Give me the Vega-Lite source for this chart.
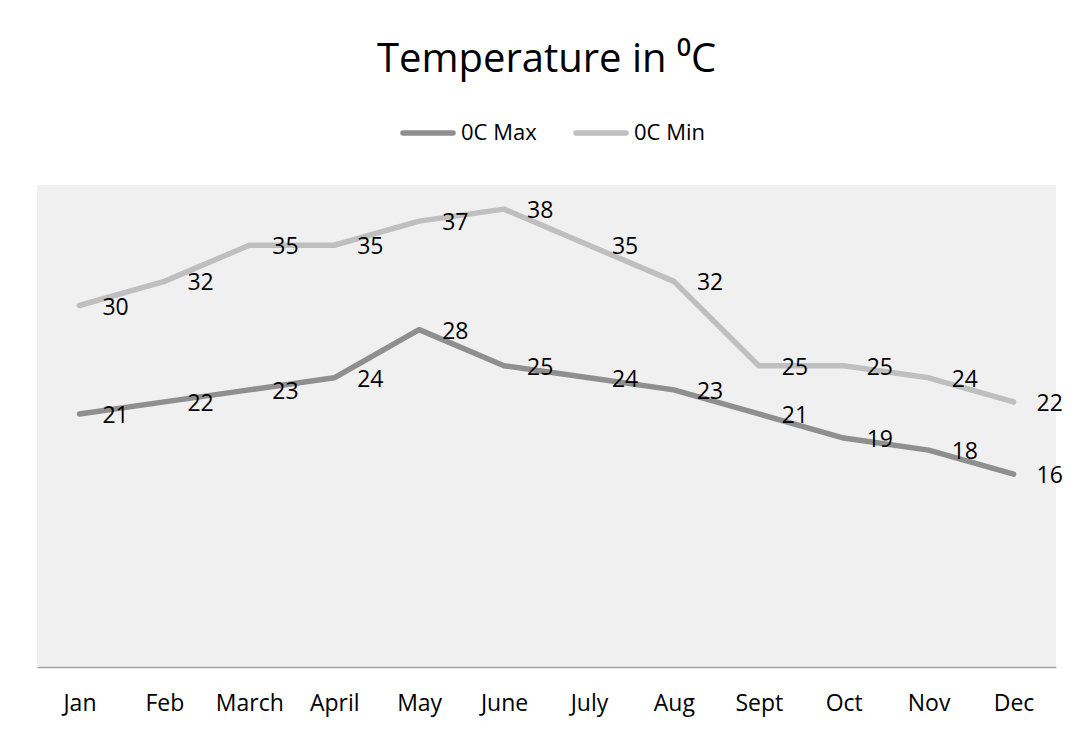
{
  "$schema": "https://vega.github.io/schema/vega-lite/v6.json",
  "width": 1019,
  "height": 482,
  "autosize": {"type": "none"},
  "padding": {"left": 37, "top": 185, "right": 20, "bottom": 63},
  "background": "white",
  "title": {
    "text": "Temperature in ⁰C",
    "font": "Open Sans",
    "fontSize": 40,
    "fontWeight": "normal",
    "color": "#000000",
    "anchor": "middle",
    "baseline": "alphabetic",
    "offset": 8,
    "dy": 15
  },
  "config": {
    "view": {"fill": "#f0f0f0", "stroke": null},
    "font": "Open Sans"
  },
  "data": {
    "values": [
      {"month": "Jan", "series": "0C Max", "temp": 21},
      {"month": "Feb", "series": "0C Max", "temp": 22},
      {"month": "March", "series": "0C Max", "temp": 23},
      {"month": "April", "series": "0C Max", "temp": 24},
      {"month": "May", "series": "0C Max", "temp": 28},
      {"month": "June", "series": "0C Max", "temp": 25},
      {"month": "July", "series": "0C Max", "temp": 24},
      {"month": "Aug", "series": "0C Max", "temp": 23},
      {"month": "Sept", "series": "0C Max", "temp": 21},
      {"month": "Oct", "series": "0C Max", "temp": 19},
      {"month": "Nov", "series": "0C Max", "temp": 18},
      {"month": "Dec", "series": "0C Max", "temp": 16},
      {"month": "Jan", "series": "0C Min", "temp": 30},
      {"month": "Feb", "series": "0C Min", "temp": 32},
      {"month": "March", "series": "0C Min", "temp": 35},
      {"month": "April", "series": "0C Min", "temp": 35},
      {"month": "May", "series": "0C Min", "temp": 37},
      {"month": "June", "series": "0C Min", "temp": 38},
      {"month": "July", "series": "0C Min", "temp": 35},
      {"month": "Aug", "series": "0C Min", "temp": 32},
      {"month": "Sept", "series": "0C Min", "temp": 25},
      {"month": "Oct", "series": "0C Min", "temp": 25},
      {"month": "Nov", "series": "0C Min", "temp": 24},
      {"month": "Dec", "series": "0C Min", "temp": 22}
    ]
  },
  "encoding": {
    "x": {
      "field": "month",
      "type": "nominal",
      "sort": null,
      "scale": {"padding": 0.5},
      "title": null,
      "axis": {
        "labelAngle": 0,
        "labelFont": "Open Sans",
        "labelFontSize": 23,
        "labelColor": "#000000",
        "labelPadding": 25,
        "ticks": false,
        "domainColor": "#a6a6a6",
        "domainWidth": 1.5,
        "grid": false
      }
    },
    "y": {
      "field": "temp",
      "type": "quantitative",
      "scale": {"domain": [0, 40], "nice": false, "zero": true},
      "axis": null
    }
  },
  "layer": [
    {
      "mark": {"type": "line", "strokeWidth": 5.5, "strokeCap": "round", "strokeJoin": "round"},
      "encoding": {
        "color": {
          "field": "series",
          "type": "nominal",
          "scale": {"domain": ["0C Max", "0C Min"], "range": ["#8f8f8f", "#bfbfbf"]},
          "legend": {
            "title": null,
            "orient": "none",
            "direction": "horizontal",
            "legendX": 363,
            "legendY": -80,
            "symbolType": "stroke",
            "symbolSize": 2500,
            "symbolStrokeWidth": 5.5,
            "labelFont": "Open Sans",
            "labelFontSize": 22,
            "labelColor": "#000000",
            "labelOffset": 5,
            "columnPadding": 28,
            "padding": 0,
            "encode": {"symbols": {"update": {"strokeCap": {"value": "round"}}}}
          }
        }
      }
    },
    {
      "mark": {
        "type": "text",
        "align": "left",
        "baseline": "middle",
        "dx": 23,
        "dy": 2,
        "font": "Open Sans",
        "fontSize": 23,
        "color": "#000000"
      },
      "encoding": {
        "text": {"field": "temp", "type": "quantitative"},
        "detail": {"field": "series", "type": "nominal"}
      }
    }
  ]
}
